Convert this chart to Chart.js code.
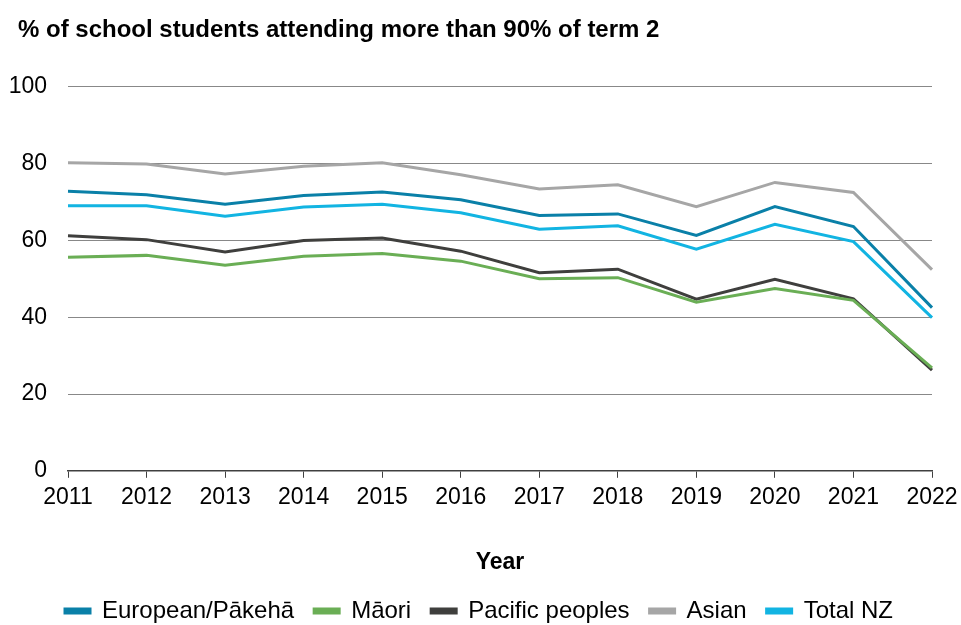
<!DOCTYPE html>
<html>
<head>
<style>
  html, body { margin: 0; padding: 0; background: #fff; }
  #wrap { width: 961px; height: 625px; }
</style>
</head>
<body>
<div id="wrap"><canvas id="myChart"></canvas></div>

<script src="https://cdn.jsdelivr.net/npm/chart.js"></script>
<script>
const years = ['2011', '2012', '2013', '2014', '2015', '2016', '2017', '2018', '2019', '2020', '2021', '2022'];
const european = [72.8, 71.9, 69.4, 71.7, 72.6, 70.6, 66.5, 66.9, 61.3, 68.8, 63.6, 42.5];
const maori    = [55.6, 56.1, 53.5, 55.9, 56.6, 54.6, 50.0, 50.3, 43.9, 47.5, 44.4, 26.8];
const pacific  = [61.2, 60.2, 57.0, 60.0, 60.6, 57.2, 51.6, 52.5, 44.7, 49.9, 44.8, 26.2];
const asian    = [80.2, 79.9, 77.3, 79.3, 80.2, 77.1, 73.4, 74.5, 68.8, 75.1, 72.5, 52.4];
const totalNZ  = [69.0, 69.0, 66.3, 68.7, 69.4, 67.2, 62.9, 63.8, 57.7, 64.2, 59.7, 39.9];
const yTicks = [0, 20, 40, 60, 80, 100];

const ctx = document.getElementById('myChart').getContext('2d');
const FONT = 'Liberation Sans, Arial';

function series(label, data, color) {
    return {
        label: label,
        data: data,
        borderColor: color,
        backgroundColor: color,
        borderWidth: 3,
        pointRadius: 0,
        tension: 0
    };
}

// nudge title and legend a little right, like the original
const boxShift = {
    id: 'boxShift',
    afterLayout(chart) {
        if (chart.titleBlock) chart.titleBlock.left = 18;
        if (chart.legend) {
            chart.legend.left += 10;
            chart.legend.right += 10;
        }
    }
};

const myChart = new Chart(ctx, {
    type: 'line',
    data: {
        labels: years,
        datasets: [
            series('European/Pākehā', european, '#0A80A8'),
            series('Māori', maori, '#6AAE55'),
            series('Pacific peoples', pacific, '#3F3F3D'),
            series('Asian', asian, '#A6A6A6'),
            series('Total NZ', totalNZ, '#12B4E2')
        ]
    },
    plugins: [boxShift],
    options: {
        responsive: true,
        maintainAspectRatio: false,
        animation: false,
        layout: {
            padding: { left: 6, right: 29, top: 6, bottom: -8 }
        },
        plugins: {
            title: {
                display: true,
                text: '% of school students attending more than 90% of term 2',
                align: 'start',
                color: '#000',
                font: { family: FONT, size: 24, weight: 'bold' },
                padding: { top: 10, bottom: 42 }
            },
            legend: {
                position: 'bottom',
                labels: {
                    color: '#000',
                    boxWidth: 25,
                    boxHeight: 4,
                    padding: 20,
                    font: { family: FONT, size: 24 }
                }
            },
            tooltip: { enabled: false }
        },
        scales: {
            x: {
                offset: false,
                afterFit: axis => {
                    axis.paddingRight = 26;
                },
                grid: {
                    drawOnChartArea: false,
                    drawTicks: true,
                    tickLength: 7,
                    color: '#404040'
                },
                border: { color: '#404040', width: 1.5 },
                ticks: {
                    color: '#000',
                    padding: 6,
                    maxRotation: 0,
                    font: { family: FONT, size: 23 }
                },
                title: {
                    display: true,
                    text: 'Year',
                    color: '#000',
                    font: { family: FONT, size: 23, weight: 'bold' },
                    padding: { top: 31, bottom: 3 }
                }
            },
            y: {
                min: 0,
                max: 100,
                afterBuildTicks: axis => {
                    axis.ticks = yTicks.map(v => ({ value: v }));
                },
                afterFit: axis => {
                    axis.width = 62;
                },
                grid: {
                    drawTicks: false,
                    color: ctx => ctx.tick.value === 0 ? 'rgba(0,0,0,0)' : '#888888',
                    lineWidth: 1
                },
                border: { display: false },
                ticks: {
                    color: '#000',
                    padding: 21,
                    font: { family: FONT, size: 23 }
                }
            }
        }
    }
});
</script>
</body>
</html>
